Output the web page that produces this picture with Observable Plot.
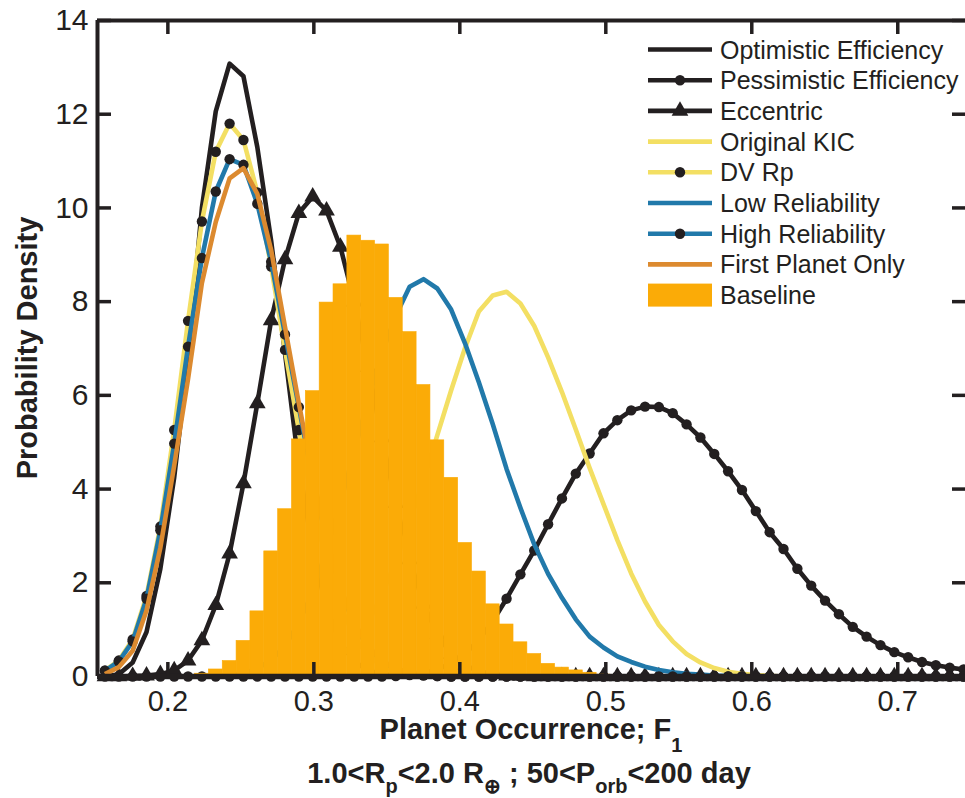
<!DOCTYPE html>
<html>
<head>
<meta charset="utf-8">
<script src="https://cdn.jsdelivr.net/npm/d3@7"></script>
<script src="https://cdn.jsdelivr.net/npm/@observablehq/plot@0.6"></script>
<style>
  html, body { margin: 0; padding: 0; background: #fff; overflow: hidden; }
  svg { display: block; }
</style>
</head>
<body>
<div id="chart"></div>
<script>
// ---- data ----
// curves are sampled on a regular grid of F1 values
const gridStart = 0.15692;
const gridStep = 0.009486;

const optimistic = [0, 0.05, 0.3, 0.95, 2.3, 4.25, 6.8, 10.0, 12.06, 13.08, 12.81, 11.3, 9.3, 6.9, 4.5, 2.7, 1.45, 0.72, 0.32, 0.13, 0.05, 0.02,
  0,0,0,0,0,0,0,0,0,0,0,0,0,0,0,0,0,0,0,0,0,0,0,0,0,0,0,0,0,0,0,0,0,0,0,0,0,0,0,0,0];
const pessimistic = [0,0,0,0,0,0,0,0,0,0,0,0,0,0,0,0,0,0,0,0,0,
  0.01, 0.03, 0.07, 0.15, 0.28, 0.48, 0.78, 1.18, 1.66, 2.18, 2.69, 3.25, 3.8, 4.33, 4.76, 5.19, 5.47, 5.68, 5.76, 5.75,
  5.62, 5.38, 5.1, 4.75, 4.38, 3.98, 3.53, 3.08, 2.72, 2.3, 1.94, 1.62, 1.33, 1.06, 0.85, 0.67, 0.52, 0.41, 0.31, 0.24, 0.19, 0.15];
const eccentric = [0, 0, 0.01, 0.02, 0.05, 0.13, 0.34, 0.77, 1.52, 2.62, 4.12, 5.83, 7.6, 8.9, 9.89, 10.24, 9.94, 9.17, 8.0, 6.6,
  5.1, 3.7, 2.5, 1.55, 0.9, 0.48, 0.24, 0.11, 0.05, 0.02, 0.01,
  0,0,0,0,0,0,0,0,0,0,0,0,0,0,0,0,0,0,0,0,0,0,0,0,0,0,0,0,0,0,0,0];
const originalKIC = [0,0,0,0,0,0,0,0,0,0,0,0,0,
  0.02, 0.05, 0.12, 0.23, 0.42, 0.72, 1.15, 1.75, 2.45, 3.3, 4.2, 5.15, 6.11, 7.01, 7.79, 8.13, 8.21, 7.96, 7.48, 6.81,
  6.07, 5.27, 4.45, 3.68, 2.91, 2.2, 1.6, 1.1, 0.75, 0.48, 0.3, 0.18, 0.1, 0.06, 0.03, 0.015,
  0,0,0,0,0,0,0,0,0,0,0,0,0,0];
const dvRp = [0.13, 0.34, 0.79, 1.72, 3.2, 5.26, 7.59, 9.71, 11.2, 11.8, 11.45, 10.33, 8.75, 6.97, 5.26, 3.7, 2.45, 1.5, 0.85,
  0.45, 0.22, 0.1, 0.04, 0.02, 0.01,
  0,0,0,0,0,0,0,0,0,0,0,0,0,0,0,0,0,0,0,0,0,0,0,0,0,0,0,0,0,0,0,0,0,0,0,0,0,0];
const lowReliability = [0,0,0,0,0,0,0,0,
  0.01, 0.03, 0.07, 0.17, 0.35, 0.65, 1.15, 1.8, 2.7, 3.7, 4.8, 5.9, 6.9, 7.7, 8.32, 8.48, 8.28, 7.83, 7.11, 6.28, 5.39,
  4.43, 3.6, 2.82, 2.19, 1.68, 1.22, 0.85, 0.62, 0.43, 0.31, 0.21, 0.14, 0.09, 0.06, 0.04, 0.02, 0.01,
  0,0,0,0,0,0,0,0,0,0,0,0,0,0,0,0,0];
const highReliability = [0.12, 0.32, 0.75, 1.66, 3.12, 4.97, 7.04, 8.93, 10.35, 11.04, 10.92, 10.09, 8.85, 7.3, 5.75, 4.2,
  2.9, 1.85, 1.1, 0.62, 0.32, 0.15, 0.07, 0.03, 0.01,
  0,0,0,0,0,0,0,0,0,0,0,0,0,0,0,0,0,0,0,0,0,0,0,0,0,0,0,0,0,0,0,0,0,0,0,0,0,0];
const firstPlanet = [0.05, 0.2, 0.55, 1.41, 2.75, 4.5, 6.35, 8.4, 9.7, 10.63, 10.85, 10.3, 9.1, 7.46, 5.83, 4.3, 2.95, 1.9,
  1.15, 0.65, 0.34, 0.17, 0.08, 0.03, 0.01,
  0,0,0,0,0,0,0,0,0,0,0,0,0,0,0,0,0,0,0,0,0,0,0,0,0,0,0,0,0,0,0,0,0,0,0,0,0,0];

// Baseline histogram
const binLeft0 = 0.20913;
const binWidth = 0.009486;
const baseline = [0.02, 0.06, 0.15, 0.33, 0.76, 1.39, 2.67, 3.57, 5.06, 6.09, 7.98, 8.37, 9.41, 9.30, 9.22, 8.08, 7.35, 6.22,
  5.04, 4.24, 2.85, 2.24, 1.54, 1.11, 0.73, 0.48, 0.27, 0.19, 0.13, 0.08, 0.04];

const xTicks = [0.2, 0.3, 0.4, 0.5, 0.6, 0.7];
const yTicks = [0, 2, 4, 6, 8, 10, 12, 14];
const xDomain = [0.1518, 0.7464];
const yDomain = [0, 14];

const legendLabels = ["Optimistic Efficiency", "Pessimistic Efficiency", "Eccentric", "Original KIC", "DV Rp",
  "Low Reliability", "High Reliability", "First Planet Only", "Baseline"];

// ---- styles ----
const K = "#231f20", YEL = "#f3df63", BLU = "#2179aa", ORA = "#dc8a2f", BAR = "#fbab07";
const FONT = "'Liberation Sans', Arial, Helvetica, sans-serif";

const toPts = arr => arr.map((v, i) => ({x: gridStart + i * gridStep, y: v}));
const bars = baseline.map((h, i) => ({x1: binLeft0 + i * binWidth, x2: binLeft0 + (i + 1) * binWidth, h}));

const W = 965, H = 798, mL = 97, mR = 0, mT = 20, mB = 122;
const innerH = H - mT - mB, innerW = W - mL - mR;
const LW = 4.6, DOTR = 5.2, TRIR = 6.2;

const line = (arr, color) => Plot.line(toPts(arr), {x: "x", y: "y", stroke: color, strokeWidth: LW, strokeLinejoin: "round", strokeLinecap: "butt"});
const dots = arr => Plot.dot(toPts(arr), {x: "x", y: "y", r: DOTR, fill: K, stroke: "none"});
const tris = arr => Plot.dot(toPts(arr), {x: "x", y: "y", r: TRIR, symbol: "triangle", fill: K, stroke: "none"});

const svg = Plot.plot({
  width: W, height: H,
  marginLeft: mL, marginRight: mR, marginTop: mT, marginBottom: mB,
  x: {domain: xDomain},
  y: {domain: yDomain},
  style: {fontFamily: FONT, background: "#fff", color: K},
  marks: [
    line(optimistic, K),
    line(pessimistic, K), dots(pessimistic),
    line(eccentric, K), tris(eccentric),
    line(originalKIC, YEL),
    line(dvRp, YEL), dots(dvRp),
    line(lowReliability, BLU),
    line(highReliability, BLU), dots(highReliability),
    line(firstPlanet, ORA),
    Plot.rectY(bars, {x1: "x1", x2: "x2", y: "h", fill: BAR, stroke: BAR, strokeWidth: 0.6, inset: 0}),
    // frame (top, bottom, left)
    Plot.ruleY([14], {stroke: K, strokeWidth: 4}),
    Plot.ruleY([0], {stroke: K, strokeWidth: 5.5}),
    Plot.ruleX([xDomain[0]], {stroke: K, strokeWidth: 4}),
    // inward tick marks
    Plot.tickX(xTicks, {x: d => d, stroke: K, strokeWidth: 3.5, insetTop: innerH - 14}),
    Plot.tickX(xTicks, {x: d => d, stroke: K, strokeWidth: 3.5, insetBottom: innerH - 14}),
    Plot.tickY(yTicks, {y: d => d, stroke: K, strokeWidth: 3.5, insetRight: innerW - 14}),
    Plot.tickY(yTicks, {y: d => d, stroke: K, strokeWidth: 3.5, insetLeft: innerW - 13}),
    // tick labels
    Plot.axisX({ticks: xTicks, tickSize: 0, tickPadding: 14, fontSize: 29, label: null, tickFormat: d => d.toFixed(1), fill: K}),
    Plot.axisY({ticks: yTicks, tickSize: 0, tickPadding: 9, fontSize: 30, label: null, tickFormat: d => String(d), fill: K})
  ]
});

document.getElementById("chart").appendChild(svg);

// ---- axis titles ----
const s = d3.select(svg);
s.append("text")
  .attr("transform", "translate(37,348) rotate(-90)")
  .attr("text-anchor", "middle")
  .attr("font-family", FONT).attr("font-weight", "bold").attr("font-size", 29).attr("fill", K)
  .text("Probability Density");

const t1 = s.append("text")
  .attr("x", 531).attr("y", 739)
  .attr("text-anchor", "middle")
  .attr("font-family", FONT).attr("font-weight", "bold").attr("font-size", 29).attr("fill", K);
t1.append("tspan").text("Planet Occurrence; F");
t1.append("tspan").attr("dy", 13).attr("font-size", 20).text("1");

const t2 = s.append("text")
  .attr("x", 529).attr("y", 783)
  .attr("text-anchor", "middle")
  .attr("font-family", FONT).attr("font-weight", "bold").attr("font-size", 29).attr("fill", K);
const parts = [["1.0<R", 0], ["p", 1], ["<2.0 R", 0], ["\u2295", 1], [" ; 50<P", 0], ["orb", 1], ["<200 day", 0]];
let prevSub = 0;
for (const [str, sub] of parts) {
  const ts = t2.append("tspan").text(str);
  const dy = sub ? (prevSub ? 0 : 10) : (prevSub ? -10 : 0);
  if (dy) ts.attr("dy", dy);
  if (sub) ts.attr("font-size", 20);
  prevSub = sub;
}

// ---- legend ----
const lg = s.append("g").attr("text-anchor", "start");
const legendSpec = [
  {c: K, m: null}, {c: K, m: "dot"}, {c: K, m: "tri"}, {c: YEL, m: null}, {c: YEL, m: "dot"},
  {c: BLU, m: null}, {c: BLU, m: "dot"}, {c: ORA, m: null}, {c: BAR, m: "box"}
];
legendSpec.forEach((d, i) => {
  const y = 49.5 + i * 30.7;
  if (d.m === "box") {
    lg.append("rect").attr("x", 648).attr("y", y - 11.5).attr("width", 64).attr("height", 23).attr("fill", d.c);
  } else {
    lg.append("line").attr("x1", 648).attr("x2", 712).attr("y1", y).attr("y2", y)
      .attr("stroke", d.c).attr("stroke-width", LW);
    if (d.m === "dot") lg.append("circle").attr("cx", 680).attr("cy", y).attr("r", DOTR).attr("fill", K);
    if (d.m === "tri") lg.append("path").attr("transform", `translate(680,${y})`)
      .attr("d", d3.symbol(d3.symbolTriangle, Math.PI * TRIR * TRIR)()).attr("fill", K);
  }
  lg.append("text").attr("x", 720).attr("y", y).attr("dy", "0.36em")
    .attr("text-anchor", "start")
    .attr("font-family", FONT).attr("font-size", 25).attr("fill", K)
    .text(legendLabels[i]);
});
</script>
</body>
</html>
